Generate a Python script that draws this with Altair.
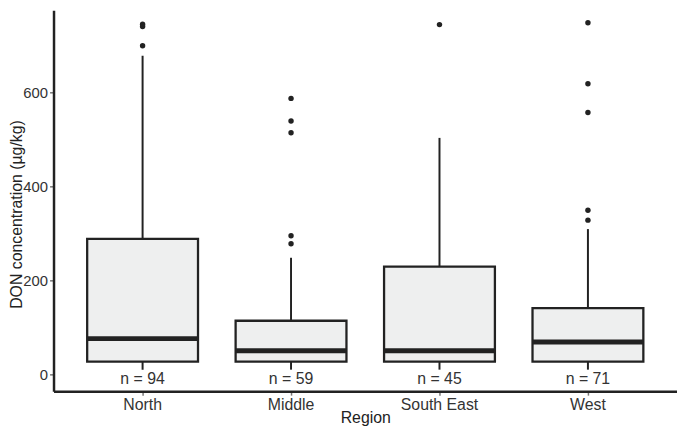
import altair as alt
import pandas as pd

regions = ["North", "Middle", "South East", "West"]
q1 = [27, 27, 27, 27]
median = [76, 50, 50, 69]
q3 = [288, 114, 229, 141]
whisker_lo = [10, 10, 10, 10]
whisker_hi = [678, 248, 503, 309]
counts = [94, 59, 45, 71]

out_region = ["North", "North", "North",
              "Middle", "Middle", "Middle", "Middle", "Middle",
              "South East",
              "West", "West", "West", "West", "West"]
out_value = [745, 740, 699,
             587, 539, 514, 295, 278,
             744,
             748, 618, 557, 349, 328]

y_ticks = [0, 200, 400, 600]
label_y = -10

stats = pd.DataFrame({
    "Region": regions, "q1": q1, "median": median, "q3": q3,
    "lo": whisker_lo, "hi": whisker_hi,
    "label": [f"n = {c}" for c in counts],
    "ly": [label_y] * len(regions),
})
outliers = pd.DataFrame({"Region": out_region, "value": out_value})

FONT = "Liberation Sans"
INK = "#222222"

x_enc = alt.X(
    "Region:N", sort=regions,
    scale=alt.Scale(paddingInner=0, paddingOuter=0.1),
    axis=alt.Axis(title="Region", labelAngle=0, labelFont=FONT, labelFontSize=16,
                  labelColor="#333333", labelPadding=2, tickSize=4, tickColor="#777777",
                  tickWidth=1.5, domainColor=INK, domainWidth=2.5,
                  titleFont=FONT, titleFontSize=16, titleFontWeight="normal",
                  titleColor="#222222", titleY=27, titleBaseline="middle"),
)
y_scale = alt.Scale(domain=[-35.8, 774.7], nice=False, zero=False)
y_axis = alt.Axis(title="DON concentration (µg/kg)", values=y_ticks, grid=False,
                  labelFont=FONT, labelFontSize=15, labelColor="#333333",
                  labelPadding=2, tickSize=4, tickColor="#777777", tickWidth=1.5,
                  domainColor=INK, domainWidth=2.5,
                  titleFont=FONT, titleFontSize=16, titleFontWeight="normal",
                  titleColor="#222222", titleX=-45, titleY=206,
                  titleBaseline="top", titleAngle=-90)

base = alt.Chart(stats)

whisk = base.mark_rule(color=INK, strokeWidth=2).encode(
    x=x_enc, y=alt.Y("lo:Q", scale=y_scale, axis=y_axis), y2="hi:Q")

box = base.mark_bar(size=112, fill="#EEEFEF", stroke=INK, strokeWidth=2.3).encode(
    x=x_enc, y=alt.Y("q1:Q", scale=y_scale), y2="q3:Q")

med = base.mark_tick(size=112, thickness=5, color=INK, opacity=1).encode(
    x=x_enc, y=alt.Y("median:Q", scale=y_scale))

pts = alt.Chart(outliers).mark_circle(size=30, color=INK, opacity=1).encode(
    x=x_enc, y=alt.Y("value:Q", scale=y_scale))

labels = base.mark_text(font=FONT, fontSize=16, color="#333333", baseline="middle").encode(
    x=x_enc, y=alt.Y("ly:Q", scale=y_scale), text="label:N")

chart = alt.layer(whisk, box, med, pts, labels).properties(
    width=630, height=385,
    autosize=alt.AutoSizeParams(type="none"),
    padding={"left": 46, "top": 0, "right": 0, "bottom": 34},
).configure_view(stroke=None)

chart.save("out.html", embed_options={"renderer": "svg", "actions": False})
